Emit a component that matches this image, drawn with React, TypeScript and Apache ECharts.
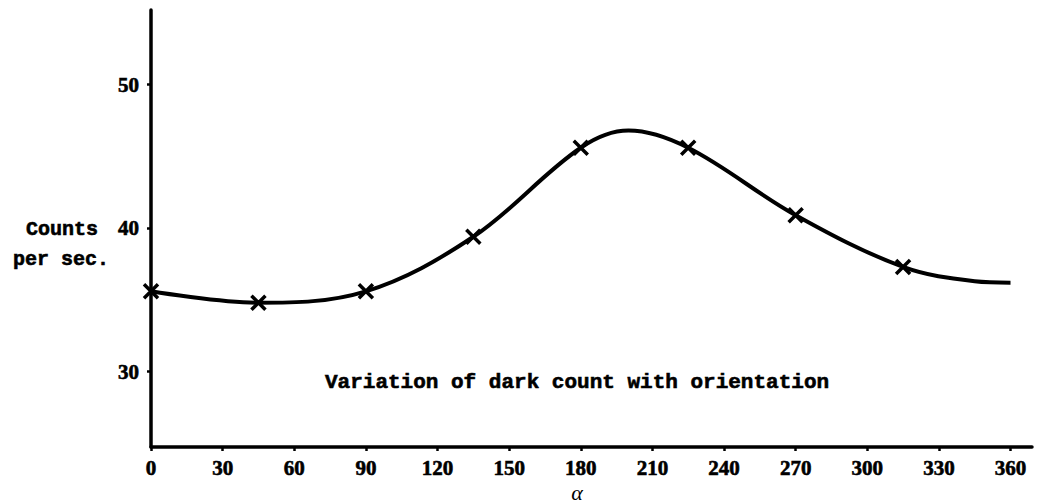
import React, { useEffect, useRef } from "react";
import * as echarts from "echarts";

const xTicks = [0, 30, 60, 90, 120, 150, 180, 210, 240, 270, 300, 330, 360];
const yTicks = [30, 40, 50];

// measured points (crosses)
const measuredAngles = [0, 45, 90, 135, 180, 225, 270, 315];
const measuredCounts = [35.6, 34.8, 35.6, 39.4, 45.6, 45.6, 40.9, 37.3];

// hand-drawn smooth curve
const curveAngles = [0, 45, 90, 135, 180, 200, 225, 270, 315, 345, 360];
const curveCounts = [35.6, 34.8, 35.6, 39.4, 45.6, 46.8, 45.6, 40.9, 37.3, 36.3, 36.2];

const captionText = "Variation of dark count with orientation";
const yTitleLine1 = "Counts";
const yTitleLine2 = "per sec.";
const xTitle = "α";

export default function App() {
  const ref = useRef<HTMLDivElement>(null);
  useEffect(() => {
    if (!ref.current) return;
    const chart = echarts.init(ref.current, undefined, { renderer: "svg" });
    const labelFont = {
      fontFamily: "Liberation Serif",
      fontWeight: "bold" as const,
      fontSize: 21,
      color: "#000",
      textBorderColor: "#000",
      textBorderWidth: 0.6,
    };
    const monoFont = "Liberation Mono";
    const monoStyle = {
      fontFamily: monoFont,
      fontWeight: "bold",
      fill: "#000",
      stroke: "#000",
      lineWidth: 0.6,
      verticalAlign: "middle",
    };
    chart.setOption({
      animation: false,
      backgroundColor: "#fff",
      grid: { left: 151, right: 10, top: 10, bottom: 56 },
      xAxis: {
        type: "value",
        min: 0,
        max: 369,
        splitLine: { show: false },
        axisLine: { show: true, onZero: false, lineStyle: { color: "#000", width: 3.5 } },
        axisTick: { show: true, length: 4, lineStyle: { color: "#000", width: 2.5 }, customValues: xTicks },
        axisLabel: { ...labelFont, margin: 10, customValues: xTicks },
      },
      yAxis: {
        type: "value",
        min: 24.75,
        max: 55.2,
        splitLine: { show: false },
        axisLine: { show: true, onZero: false, lineStyle: { color: "#000", width: 3.5 } },
        axisTick: { show: true, length: 4, lineStyle: { color: "#000", width: 2.5 }, customValues: yTicks },
        axisLabel: { ...labelFont, margin: 12, customValues: yTicks },
      },
      series: [
        {
          type: "line",
          data: curveAngles.map((a, i) => [a, curveCounts[i]]),
          smooth: 0.35,
          showSymbol: false,
          symbol: "none",
          lineStyle: { color: "#000", width: 4 },
          z: 2,
        },
        {
          type: "scatter",
          data: measuredAngles.map((a, i) => [a, measuredCounts[i]]),
          symbol: "path://M0,0L10,10M10,0L0,10",
          symbolSize: 14,
          itemStyle: { color: "#000", borderColor: "#000", borderWidth: 3.5, opacity: 1 },
          z: 3,
        },
      ],
      graphic: [
        {
          type: "text",
          x: 26,
          y: 229,
          style: { ...monoStyle, text: yTitleLine1, fontSize: 20 },
        },
        {
          type: "text",
          x: 13,
          y: 259,
          style: { ...monoStyle, text: yTitleLine2, fontSize: 20 },
        },
        {
          type: "text",
          x: 325,
          y: 382,
          style: { ...monoStyle, text: captionText, fontSize: 21 },
        },
        {
          type: "text",
          x: 577,
          y: 492,
          style: {
            text: xTitle,
            fontFamily: "Liberation Serif",
            fontStyle: "italic",
            fontSize: 22,
            fill: "#000",
            align: "center",
            verticalAlign: "middle",
          },
        },
      ],
    });
    return () => chart.dispose();
  }, []);
  return (
    <div
      ref={ref}
      style={{ position: "absolute", left: 0, top: 0, width: 1042, height: 503 }}
    />
  );
}
